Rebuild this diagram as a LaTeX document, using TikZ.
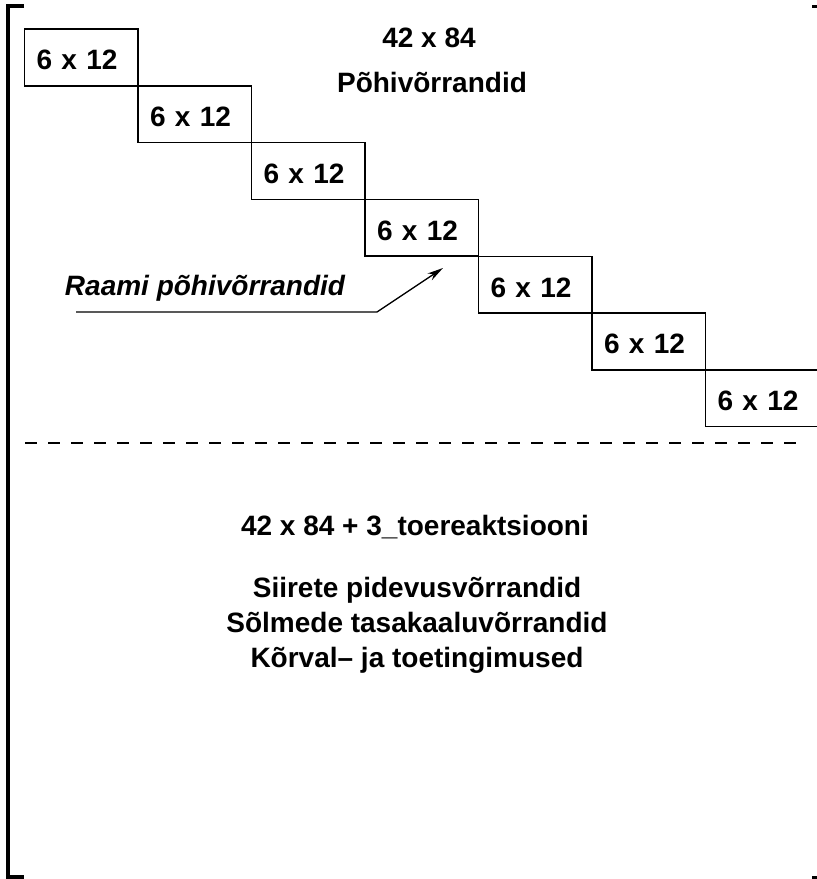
\documentclass[tikz,border=0pt]{standalone}
\usepackage{fontspec}
\setmainfont{Liberation Sans}
\usetikzlibrary{calc}
\usetikzlibrary{arrows.meta}
\tikzstyle{blockbox} = [draw, line width=1.5pt, rectangle, minimum height=56.7pt, text width=89.5pt, text height=25pt, text depth=0pt, inner xsep=12pt, align=left, font=\fontsize{28}{34}\selectfont\bfseries]
\tikzstyle{headtext} = [font=\fontsize{28}{34}\selectfont\bfseries, inner sep=0pt, anchor=base]
\tikzstyle{calltext} = [font=\fontsize{28}{34}\selectfont\bfseries\itshape, inner sep=0pt, anchor=base]

\begin{document}
\begin{tikzpicture}[x=1pt, y=-1pt]
    \useasboundingbox (0,0) rectangle (817,879);
    \clip (0,0) rectangle (817,879);

    \node[blockbox] (blk_one) at (81.3,57.4) {6 x 12};
    \node[blockbox] (blk_two) at ($(blk_one)+(113.5,56.8)$) {6 x 12};
    \node[blockbox] (blk_three) at ($(blk_two)+(113.5,56.8)$) {6 x 12};
    \node[blockbox] (blk_four) at ($(blk_three)+(113.5,56.8)$) {6 x 12};
    \node[blockbox] (blk_five) at ($(blk_four)+(113.5,56.8)$) {6 x 12};
    \node[blockbox] (blk_six) at ($(blk_five)+(113.5,56.8)$) {6 x 12};
    \node[blockbox] (blk_seven) at ($(blk_six)+(113.5,56.8)$) {6 x 12};

    \node[headtext] (top_size) at (429,47) {42 x 84};
    \node[headtext] (top_name) at ($(top_size.base)+(3,45)$) {Põhivõrrandid};

    \node[calltext] (call_text) at (205,295) {Raami põhivõrrandid};
    \coordinate (call_start) at (76,312);
    \coordinate (call_bend) at (377,312);
    \coordinate (call_tip) at (443,268);
    \draw[line width=1.3pt, -{Stealth[length=16pt, width=8pt]}] (call_start) -- (call_bend) -- (call_tip);

    \coordinate (split_left) at (25,443);
    \coordinate (split_right) at (806,443);
    \draw[line width=1.5pt, dash pattern=on 12pt off 11pt] (split_left) -- (split_right);

    \node[headtext] (low_size) at (415,535) {42 x 84 + 3\_toereaktsiooni};
    \node[headtext] (low_one) at ($(low_size.base)+(2,62)$) {Siirete pidevusvõrrandid};
    \node[headtext] (low_two) at ($(low_one.base)+(0,35)$) {Sõlmede tasakaaluvõrrandid};
    \node[headtext] (low_three) at ($(low_two.base)+(0,35)$) {Kõrval– ja toetingimused};

    % frame corners
    \coordinate (fr_tl) at (8,6);
    \coordinate (fr_bl) at (8,877);
    \draw[line width=3.5pt] ($(fr_tl)+(16,0)$) -- (fr_tl) -- (fr_bl) -- ($(fr_bl)+(16,0)$);
    \draw[line width=3pt] (812,6) -- (817,6);
    \draw[line width=3pt] (812,877) -- (817,877);
\end{tikzpicture}
\end{document}
